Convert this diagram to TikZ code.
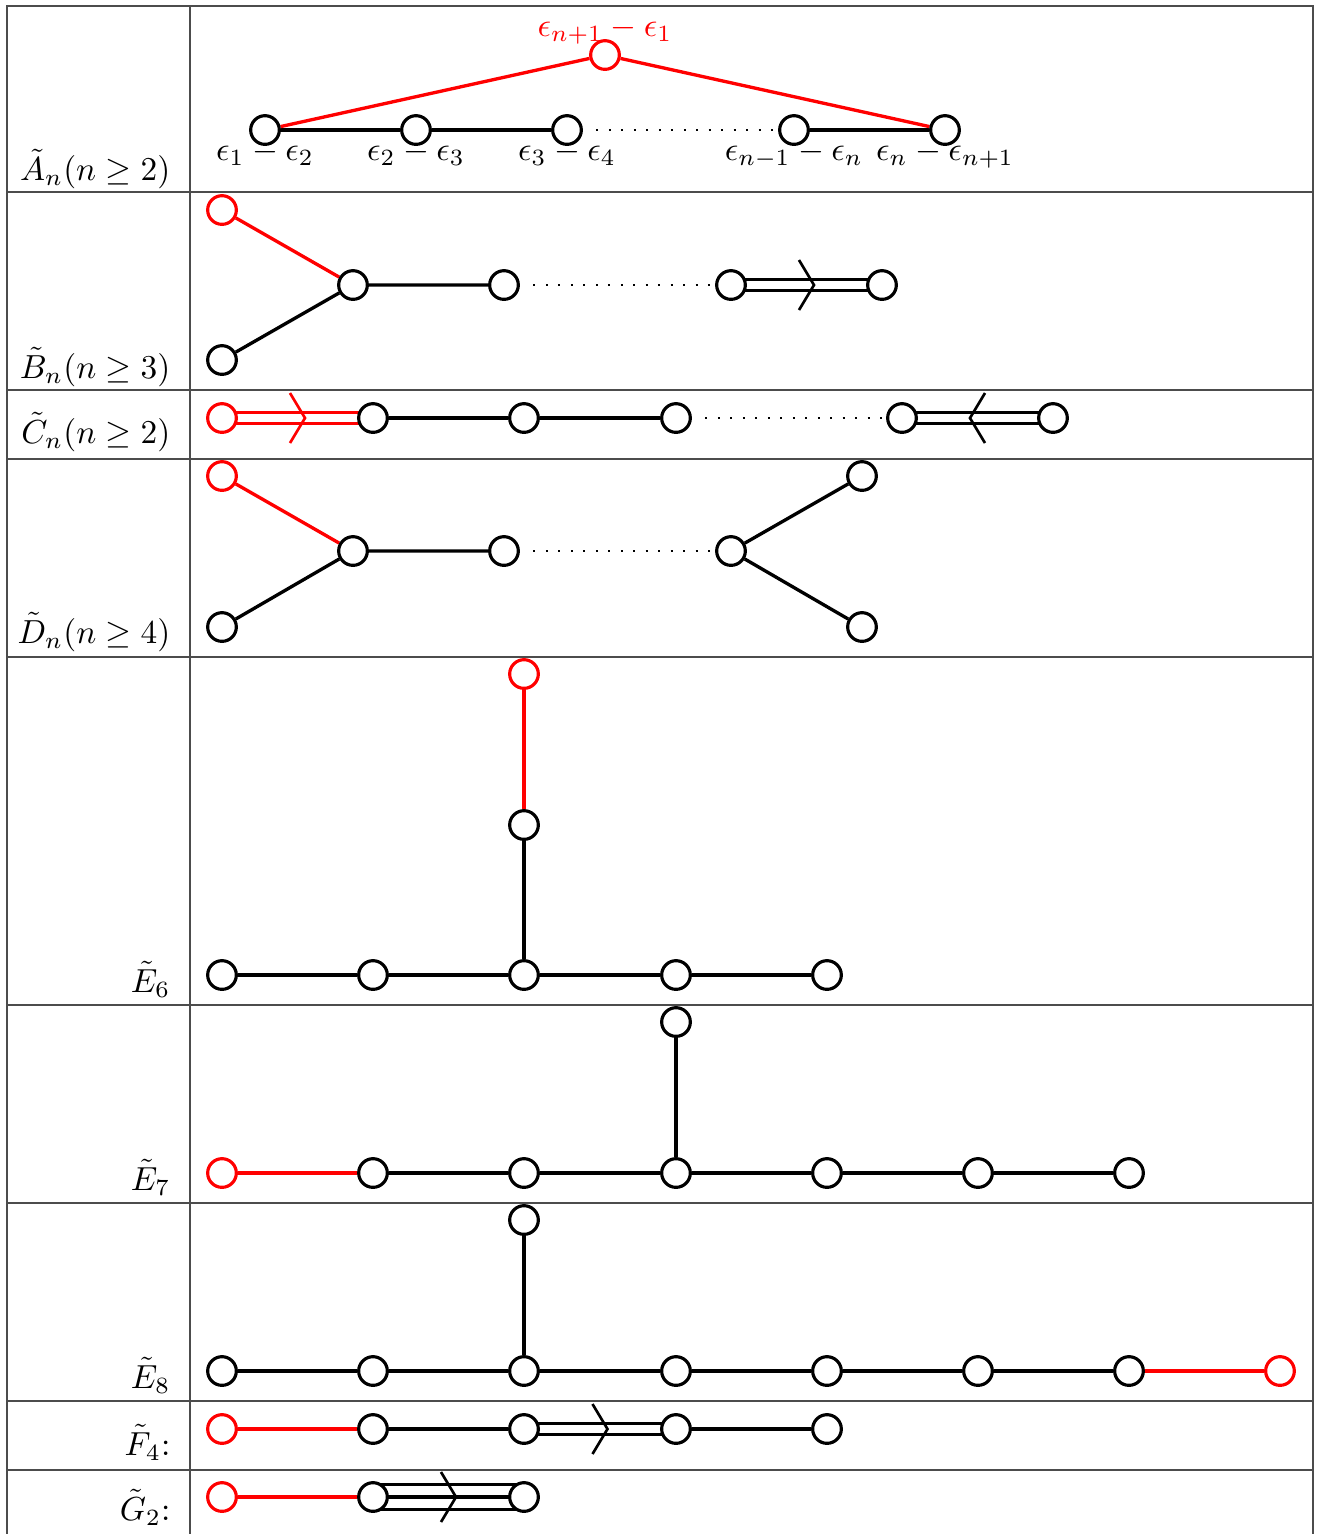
\documentclass[tikz,border=0pt]{standalone}
\usetikzlibrary{calc,backgrounds}

\tikzset{
  v/.style={circle, draw=black, fill=white, line width=0.95pt, minimum size=8.6pt, inner sep=0pt},
  vr/.style={v, draw=red},
  e/.style={line width=1pt},
  er/.style={e, draw=red},
  dots/.style={line width=0.6pt, dash pattern=on 0.6pt off 3.15pt, shorten <=4pt},
  dbl/.style={double=white, double distance=2.2pt, line width=0.9pt},
  tpl/.style={double=white, double distance=6.6pt, line width=0.9pt},
  chev/.style={line width=0.8pt},
  rowlbl/.style={anchor=base east, inner sep=0pt},
  rootlbl/.style={anchor=base, inner sep=0pt},
  rulel/.style={line width=0.5pt, draw=black!70},
}

% chevron in the middle of a multiple bond, pointing right / left
\newcommand\chevright[3][black]{%
  \draw[chev,#1] ($(#2)!0.5!(#3)+(-2.25pt,7.5pt)$) -- ($(#2)!0.5!(#3)+(2.25pt,0pt)$)
     -- ($(#2)!0.5!(#3)+(-2.25pt,-7.5pt)$);}
\newcommand\chevleft[3][black]{%
  \draw[chev,#1] ($(#2)!0.5!(#3)+(2.25pt,7.5pt)$) -- ($(#2)!0.5!(#3)+(-2.25pt,0pt)$)
     -- ($(#2)!0.5!(#3)+(2.25pt,-7.5pt)$);}

\begin{document}
\begin{tikzpicture}[x=0.3pt, y=-0.3pt]
\useasboundingbox (0,0) rectangle (1321,1534);

% ---------- table rules ----------
\coordinate (tl) at (7,6);
\coordinate (tr) at (1313,6);
\coordinate (bl) at (7,1534);
\coordinate (br) at (1313,1534);
\coordinate (ct) at (190,6);
\coordinate (cb) at (190,1534);
\draw[rulel] (bl) -- (tl) -- (tr) -- (br);
\draw[rulel] (ct) -- (cb);
\foreach \yy in {192,390,459,657,1005,1203,1401,1470}
  \draw[rulel] (7,\yy) -- (1313,\yy);

% ---------- row labels ----------
\node[rowlbl] (ra) at (171,180)  {$\tilde{A}_n(n\geq 2)$};
\node[rowlbl] (rb) at (171,378)  {$\tilde{B}_n(n\geq 3)$};
\node[rowlbl] (rc) at (171,443)  {$\tilde{C}_n(n\geq 2)$};
\node[rowlbl] (rd) at (171,643)  {$\tilde{D}_n(n\geq 4)$};
\node[rowlbl] (re6) at (171,992) {$\tilde{E}_6$};
\node[rowlbl] (re7) at (171,1190) {$\tilde{E}_7$};
\node[rowlbl] (re8) at (171,1388) {$\tilde{E}_8$};
\node[rowlbl] (rf) at (171,1455) {$\tilde{F}_4{:}$};
\node[rowlbl] (rg) at (171,1520) {$\tilde{G}_2{:}$};

% ---------- A~_n ----------
\node[rootlbl] (la1) at (265,160) {$\epsilon_1-\epsilon_2$};
\node[rootlbl] (la2) at (416,160) {$\epsilon_2-\epsilon_3$};
\node[rootlbl] (la3) at (567,160) {$\epsilon_3-\epsilon_4$};
\node[rootlbl] (la4) at (794,160) {$\epsilon_{n-1}-\epsilon_n$};
\node[rootlbl] (la5) at (945,160) {$\epsilon_n-\epsilon_{n+1}$};
\node[rootlbl, text=red] (la0) at (605,36) {$\epsilon_{n+1}-\epsilon_1$};
\node[v] (a1) at (265,130) {};
\node[v] (a2) at (416,130) {};
\node[v] (a3) at (567,130) {};
\node[v] (a4) at (794,130) {};
\node[v] (a5) at (945,130) {};
\node[vr] (a0) at (605,55) {};

% ---------- B~_n ----------
\node[vr] (b0) at (222,210) {};
\node[v] (b1) at (222,360) {};
\node[v] (b2) at (353,285) {};
\node[v] (b3) at (504,285) {};
\node[v] (b4) at (731,285) {};
\node[v] (b5) at (882,285) {};

% ---------- C~_n ----------
\node[vr] (c0) at (222,418) {};
\node[v] (c1) at (373,418) {};
\node[v] (c2) at (524,418) {};
\node[v] (c3) at (676,418) {};
\node[v] (c4) at (902,418) {};
\node[v] (c5) at (1053,418) {};

% ---------- D~_n ----------
\node[vr] (d0) at (222,476) {};
\node[v] (d1) at (222,627) {};
\node[v] (d2) at (353,551) {};
\node[v] (d3) at (504,551) {};
\node[v] (d4) at (731,551) {};
\node[v] (d5) at (862,476) {};
\node[v] (d6) at (862,627) {};

% ---------- E~_6 ----------
\node[v] (e1) at (222,975) {};
\node[v] (e2) at (373,975) {};
\node[v] (e3) at (524,975) {};
\node[v] (e4) at (676,975) {};
\node[v] (e5) at (827,975) {};
\node[v] (e6) at (524,825) {};
\node[vr] (e0) at (524,674) {};

% ---------- E~_7 ----------
\node[vr] (f0) at (222,1173) {};
\node[v] (f1) at (373,1173) {};
\node[v] (f2) at (524,1173) {};
\node[v] (f3) at (676,1173) {};
\node[v] (f4) at (827,1173) {};
\node[v] (f5) at (978,1173) {};
\node[v] (f6) at (1129,1173) {};
\node[v] (f7) at (676,1022) {};

% ---------- E~_8 ----------
\node[v] (g1) at (222,1371) {};
\node[v] (g2) at (373,1371) {};
\node[v] (g3) at (524,1371) {};
\node[v] (g4) at (676,1371) {};
\node[v] (g5) at (827,1371) {};
\node[v] (g6) at (978,1371) {};
\node[v] (g7) at (1129,1371) {};
\node[vr] (g0) at (1280,1371) {};
\node[v] (g8) at (524,1220) {};

% ---------- F~_4 ----------
\node[vr] (h0) at (222,1429) {};
\node[v] (h1) at (373,1429) {};
\node[v] (h2) at (524,1429) {};
\node[v] (h3) at (676,1429) {};
\node[v] (h4) at (827,1429) {};

% ---------- G~_2 ----------
\node[vr] (k0) at (222,1497) {};
\node[v] (k1) at (373,1497) {};
\node[v] (k2) at (524,1497) {};

% ---------- bonds, beneath the vertices ----------
\begin{scope}[on background layer]
  % A~_n
  \draw[e] (a1) -- (a2) -- (a3);
  \draw[dots] (a3) -- (a4);
  \draw[e] (a4) -- (a5);
  \draw[er] (a1) -- (a0) -- (a5);
  % B~_n
  \draw[er] (b0) -- (b2);
  \draw[e] (b1) -- (b2) -- (b3);
  \draw[dots] (b3) -- (b4);
  \draw[dbl] (b4.center) -- (b5.center);
  % C~_n
  \draw[dbl, draw=red] (c0.center) -- (c1.center);
  \draw[e] (c1) -- (c2) -- (c3);
  \draw[dots] (c3) -- (c4);
  \draw[dbl] (c4.center) -- (c5.center);
  % D~_n
  \draw[er] (d0) -- (d2);
  \draw[e] (d1) -- (d2) -- (d3);
  \draw[dots] (d3) -- (d4);
  \draw[e] (d5) -- (d4) -- (d6);
  % E~_6
  \draw[e] (e1) -- (e2) -- (e3) -- (e4) -- (e5);
  \draw[e] (e3) -- (e6);
  \draw[er] (e6) -- (e0);
  % E~_7
  \draw[er] (f0) -- (f1);
  \draw[e] (f1) -- (f2) -- (f3) -- (f4) -- (f5) -- (f6);
  \draw[e] (f3) -- (f7);
  % E~_8
  \draw[e] (g1) -- (g2) -- (g3) -- (g4) -- (g5) -- (g6) -- (g7);
  \draw[er] (g7) -- (g0);
  \draw[e] (g3) -- (g8);
  % F~_4
  \draw[er] (h0) -- (h1);
  \draw[e] (h1) -- (h2);
  \draw[dbl] (h2.center) -- (h3.center);
  \draw[e] (h3) -- (h4);
  % G~_2
  \draw[er] (k0) -- (k1);
  \draw[tpl] (k1.center) -- (k2.center);
  \draw[e] (k1.center) -- (k2.center);
\end{scope}

% ---------- arrows on multiple bonds ----------
\chevright{b4}{b5}
\chevright[red]{c0}{c1}
\chevleft{c4}{c5}
\chevright{h2}{h3}
\chevright{k1}{k2}

\end{tikzpicture}
\end{document}
